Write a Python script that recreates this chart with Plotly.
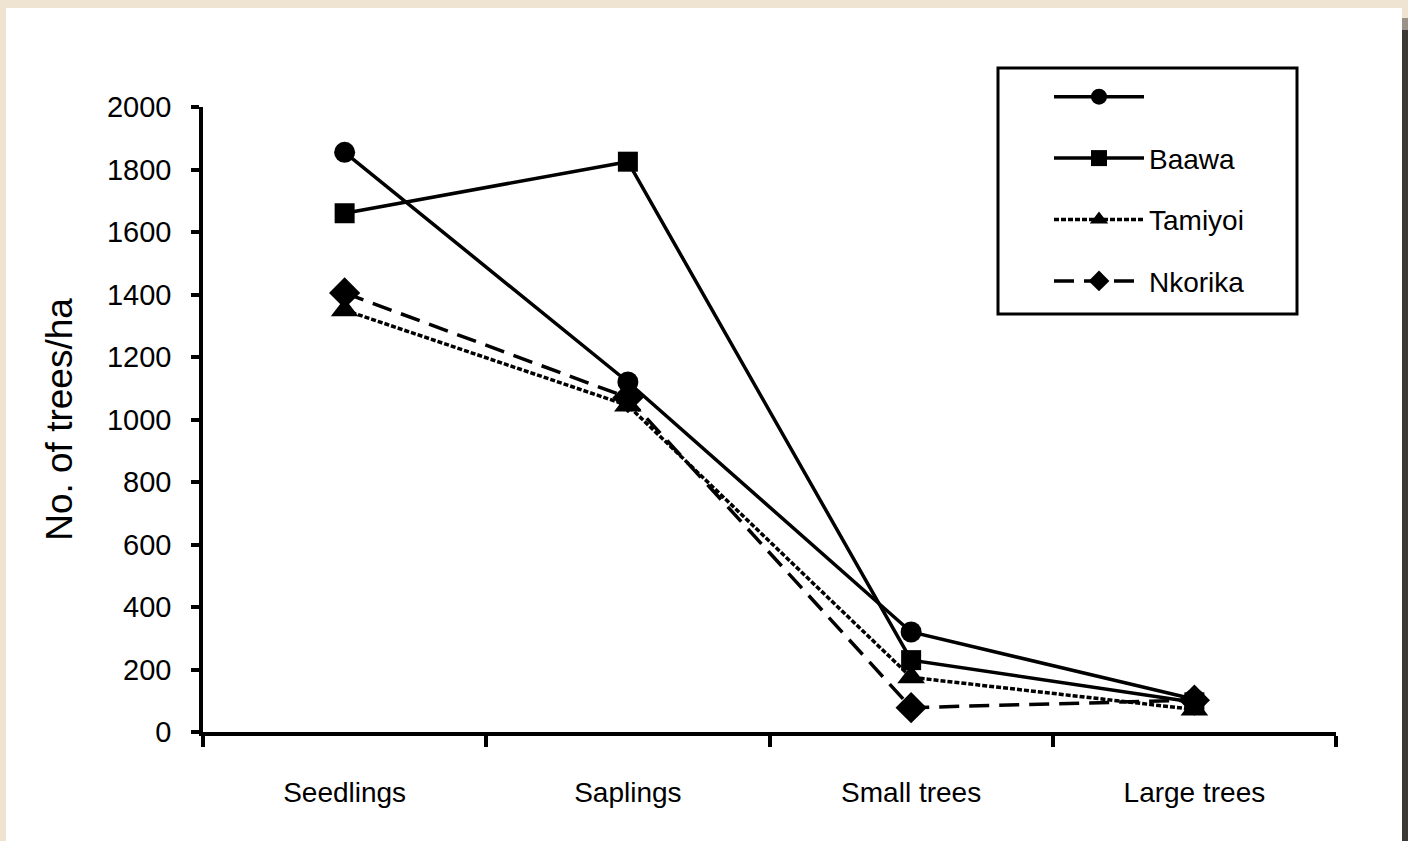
import plotly.graph_objects as go

categories = ["Seedlings", "Saplings", "Small trees", "Large trees"]
series_unnamed = [1855, 1120, 320, 105]
baawa = [1660, 1825, 230, 95]
tamiyoi = [1350, 1045, 175, 72]
nkorika = [1405, 1070, 78, 102]
y_ticks = [0, 200, 400, 600, 800, 1000, 1200, 1400, 1600, 1800, 2000]

FONT = "Liberation Sans, Arial, sans-serif"
W, H = 1408, 841
L, R, T, B = 203, 1336, 107, 732
PW, PH = R - L, B - T


def px(x):
    return (x - L) / PW


def py(y):
    return (B - y) / PH


fig = go.Figure()

specs = [
    ("", series_unnamed, "circle", 21, "solid"),
    ("Baawa", baawa, "square", 20, "solid"),
    ("Tamiyoi", tamiyoi, "triangle-up", 24, "5px,2px"),
    ("Nkorika", nkorika, "diamond", 24, "20px,10px"),
]
for i, (name, vals, sym, size, dash) in enumerate(specs):
    fig.add_trace(go.Scatter(
        x=categories, y=vals, name=name, mode="lines+markers",
        legendgroup=f"g{i}",
        line=dict(color="black", width=3.5, dash=dash),
        marker=dict(symbol=sym, size=size, color="black", line=dict(width=0)),
    ))

shapes = [
    dict(type="rect", xref="paper", yref="paper", layer="below",
         x0=px(6), x1=px(1402), y0=py(845), y1=py(8),
         fillcolor="white", line=dict(width=0)),
    dict(type="rect", xref="paper", yref="paper", layer="below",
         x0=px(1402), x1=px(1410), y0=py(845), y1=py(30),
         fillcolor="#3c3833", line=dict(width=0)),
    dict(type="rect", xref="paper", yref="paper", layer="below",
         x0=px(1402), x1=px(1410), y0=py(30), y1=py(18),
         fillcolor="#9a9286", line=dict(width=0)),
    dict(type="rect", xref="paper", yref="paper", layer="above",
         x0=px(998), x1=px(1297), y0=py(314), y1=py(68),
         fillcolor="rgba(0,0,0,0)", line=dict(color="black", width=3)),
]

fig.update_layout(
    width=W, height=H,
    margin=dict(l=L, r=W - R, t=T, b=H - B, autoexpand=False),
    paper_bgcolor="#efe4d2",
    plot_bgcolor="white",
    font=dict(family=FONT, size=28, color="black"),
    shapes=shapes,
    showlegend=True,
    legend=dict(
        x=px(1049), y=py(72), xanchor="left", yanchor="top",
        bgcolor="rgba(0,0,0,0)", borderwidth=0,
        font=dict(family=FONT, size=28, color="black"),
        tracegroupgap=22, itemwidth=90,
    ),
    xaxis=dict(
        type="category", range=[-0.5, 3.5], tickson="boundaries",
        showline=True, linecolor="black", linewidth=3.5,
        ticks="outside", ticklen=11, tickwidth=3.5, tickcolor="black",
        showgrid=False, zeroline=False, ticklabelstandoff=33,
        tickfont=dict(family=FONT, size=28),
    ),
    yaxis=dict(
        range=[0, 2000], tickvals=y_ticks,
        showline=True, linecolor="black", linewidth=3.5,
        ticks="outside", ticklen=8, tickwidth=3.5, tickcolor="black",
        showgrid=False, zeroline=False, ticklabelstandoff=14,
        tickfont=dict(family=FONT, size=29),
        title=dict(text="No. of trees/ha", standoff=24,
                   font=dict(family=FONT, size=37)),
    ),
)

post = ("document.body.style.margin='0';"
        "document.body.style.background='#efe4d2';")
fig.write_html("out.html", post_script=post, config={"displayModeBar": False})
